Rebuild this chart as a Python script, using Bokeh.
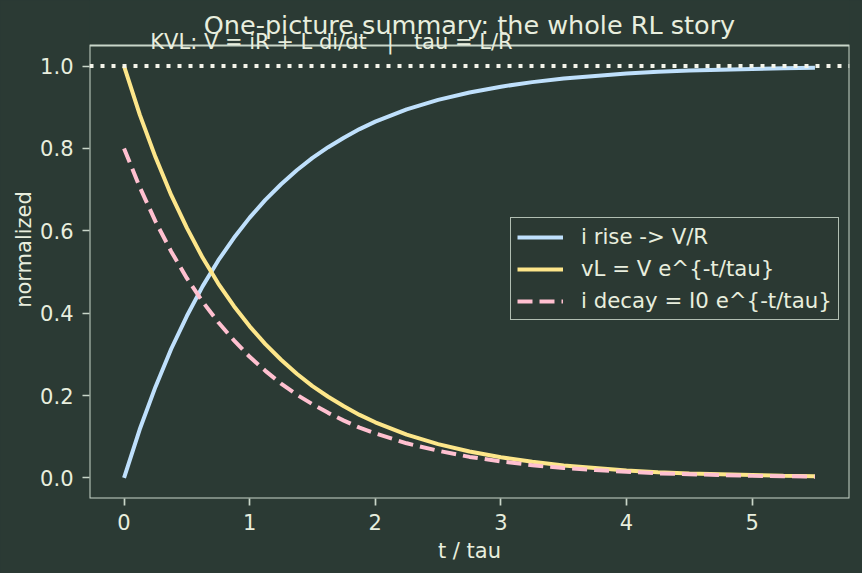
from bokeh.plotting import figure
from bokeh.models import Range1d, Span, Label, Legend, LegendItem, FixedTicker, BoxAnnotation
from bokeh.embed import file_html
from bokeh.resources import INLINE

# ---- data ----
t = [0.0, 0.125, 0.25, 0.375, 0.5, 0.625, 0.75, 0.875, 1.0, 1.125, 1.25, 1.375,
     1.5, 1.625, 1.75, 1.875, 2.0, 2.25, 2.5, 2.75, 3.0, 3.25, 3.5, 3.75, 4.0,
     4.25, 4.5, 4.75, 5.0, 5.25, 5.5]
i_rise = [0.000, 0.118, 0.221, 0.313, 0.393, 0.465, 0.528, 0.583, 0.632, 0.675,
          0.713, 0.747, 0.777, 0.803, 0.826, 0.847, 0.865, 0.895, 0.918, 0.936,
          0.950, 0.961, 0.970, 0.976, 0.982, 0.986, 0.989, 0.991, 0.993, 0.995,
          0.996]
v_L = [1.000, 0.882, 0.779, 0.687, 0.607, 0.535, 0.472, 0.417, 0.368, 0.325,
       0.287, 0.253, 0.223, 0.197, 0.174, 0.153, 0.135, 0.105, 0.082, 0.064,
       0.050, 0.039, 0.030, 0.024, 0.018, 0.014, 0.011, 0.009, 0.007, 0.005,
       0.004]
i_decay = [0.800, 0.706, 0.623, 0.550, 0.485, 0.428, 0.378, 0.334, 0.294, 0.260,
           0.229, 0.202, 0.179, 0.158, 0.139, 0.122, 0.108, 0.084, 0.066, 0.051,
           0.040, 0.031, 0.024, 0.019, 0.015, 0.011, 0.009, 0.007, 0.005, 0.004,
           0.003]
steady_level = 1.0
x_ticks = [0, 1, 2, 3, 4, 5]
y_ticks = [0.0, 0.2, 0.4, 0.6, 0.8, 1.0]
y_tick_labels = ["0.0", "0.2", "0.4", "0.6", "0.8", "1.0"]
series_labels = ["i rise -> V/R", "vL = V e^{-t/tau}", "i decay = I0 e^{-t/tau}"]
title_text = "One-picture summary: the whole RL story"
note_text = "KVL: V = iR + L di/dt \u00a0\u00a0|\u00a0\u00a0 tau = L/R"

# axes box (matplotlib-like, 5% margins) and the headroom above it
X_LO, X_HI = -0.275, 5.775
Y_LO, Y_HI = -0.05, 1.05
PX_PER_Y = 412.0
HEADROOM = 45 / PX_PER_Y

# ---- style ----
BG = "#2b3a34"
FG = "#e8eede"
SPINE = "#c9d6c9"
C_BLUE = "#bfe0fc"
C_YEL = "#fde68a"
C_PINK = "#ffc0d0"
FONT = "DejaVu Sans"

p = figure(width=862, height=573, output_backend="svg", toolbar_location=None,
           x_range=Range1d(X_LO, X_HI), y_range=Range1d(Y_LO, Y_HI + HEADROOM),
           min_border_left=89, min_border_right=13, min_border_top=0,
           min_border_bottom=75)
p.styles = {"background-color": BG}
p.title.visible = False
p.background_fill_color = BG
p.border_fill_color = BG
p.outline_line_color = None
p.grid.visible = False

for ax in (p.xaxis[0], p.yaxis[0]):
    ax.axis_line_color = None
    ax.major_tick_line_color = SPINE
    ax.major_tick_line_width = 1.7
    ax.major_tick_out = 7
    ax.major_tick_in = 0
    ax.minor_tick_line_color = None
    ax.major_label_text_color = FG
    ax.major_label_text_font = FONT
    ax.major_label_text_font_size = "21px"
    ax.axis_label_text_color = FG
    ax.axis_label_text_font = FONT
    ax.axis_label_text_font_size = "21px"
    ax.axis_label_text_font_style = "normal"

p.xaxis.ticker = FixedTicker(ticks=x_ticks)
p.yaxis.ticker = FixedTicker(ticks=y_ticks)
p.yaxis.major_label_overrides = {v: s for v, s in zip(y_ticks, y_tick_labels)}
p.xaxis.axis_label = "t / tau"
p.yaxis.axis_label = "normalized"
p.xaxis.major_label_standoff = 8
p.yaxis.major_label_standoff = 9
p.xaxis.axis_label_standoff = 6
p.yaxis.axis_label_standoff = 1

# axes frame (spines)
p.add_layout(BoxAnnotation(left=X_LO, right=X_HI, bottom=Y_LO, top=Y_HI,
                           fill_color=None, fill_alpha=0, line_color=SPINE,
                           line_alpha=1.0, line_width=2, level="underlay"))

r1 = p.line(t, i_rise, line_color=C_BLUE, line_width=4)
r2 = p.line(t, v_L, line_color=C_YEL, line_width=4)
r3 = p.line(t, i_decay, line_color=C_PINK, line_width=4, line_dash="15 7")

span = Span(location=steady_level, dimension="width", line_color="#f4f4ea",
            line_width=4, line_dash="4 7")
p.add_layout(span)

legend = Legend(items=[LegendItem(label=series_labels[0], renderers=[r1]),
                       LegendItem(label=series_labels[1], renderers=[r2]),
                       LegendItem(label=series_labels[2], renderers=[r3])],
                location=(421, 178))
legend.background_fill_color = BG
legend.background_fill_alpha = 0.85
legend.border_line_color = SPINE
legend.border_line_alpha = 0.85
legend.border_line_width = 1.6
legend.label_text_color = FG
legend.label_text_font = FONT
legend.label_text_font_size = "21.3px"
legend.padding = 6
legend.margin = 0
legend.spacing = 7
legend.label_height = 22
legend.glyph_height = 22
legend.glyph_width = 46
legend.label_standoff = 18
p.add_layout(legend)

p.add_layout(Label(x=(X_LO + X_HI) / 2, y=Y_HI + 20 / PX_PER_Y, text=title_text,
                   text_align="center", text_baseline="alphabetic",
                   text_color=FG, text_font=FONT, text_font_size="25.5px"))
p.add_layout(Label(x=X_LO + 0.08 * (X_HI - X_LO), y=Y_HI + 3 / PX_PER_Y,
                   text=note_text, text_align="left",
                   text_baseline="alphabetic", text_color=FG, text_font=FONT,
                   text_font_size="21px"))

open("out.html", "w").write(file_html(p, INLINE))
